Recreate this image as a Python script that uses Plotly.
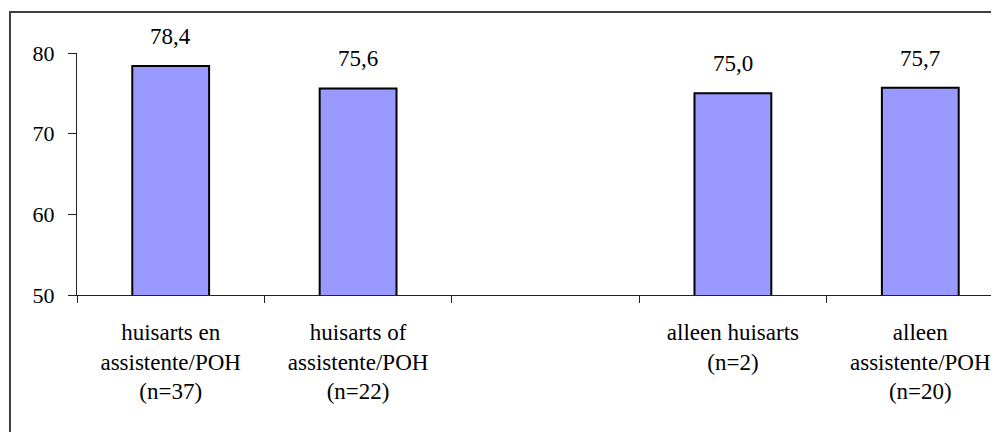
import plotly.graph_objects as go

categories = [
    "huisarts en<br>assistente/POH<br>(n=37)",
    "huisarts of<br>assistente/POH<br>(n=22)",
    " ",
    "alleen huisarts<br>(n=2)",
    "alleen<br>assistente/POH<br>(n=20)",
]
values = [78.4, 75.6, None, 75.0, 75.7]
value_labels = ["78,4", "75,6", "", "75,0", "75,7"]
y_ticks = [50, 60, 70, 80]

FONT = "Liberation Serif"

fig = go.Figure()
fig.add_trace(go.Bar(
    x=categories,
    y=values,
    width=0.41,
    marker=dict(color="#9999FF", line=dict(color="#000000", width=2)),
    hoverinfo="skip",
))

for c, v, t in zip(categories, values, value_labels):
    if v is None:
        continue
    fig.add_annotation(
        x=c, y=v, text=t, showarrow=False,
        xref="x", yref="y", yanchor="bottom", yshift=15,
        font=dict(family=FONT, size=23, color="#000000"),
    )

fig.add_shape(
    type="rect", xref="paper", yref="paper",
    x0=-0.0727, x1=1.05, y0=-0.7, y1=1.169,
    line=dict(color="#404040", width=2), fillcolor="rgba(0,0,0,0)",
    layer="below",
)

fig.update_layout(
    width=991, height=424,
    margin=dict(l=69, r=0, t=45, b=137),
    plot_bgcolor="white", paper_bgcolor="white",
    showlegend=False,
    font=dict(family=FONT, size=23, color="#000000"),
    xaxis=dict(
        type="category",
        categoryorder="array", categoryarray=categories,
        range=[-0.5, 4.42],
        tickson="boundaries",
        ticks="outside", ticklen=7, tickwidth=1, tickcolor="#222222",
        showline=True, linecolor="#222222", linewidth=1,
        showgrid=False, zeroline=False,
        tickfont=dict(family=FONT, size=23, color="#000000"),
        ticklabelstandoff=16,
    ),
    yaxis=dict(
        range=[50, 80],
        tickvals=y_ticks,
        ticks="outside", ticklen=8, tickwidth=1, tickcolor="#222222",
        showline=True, linecolor="#222222", linewidth=1,
        showgrid=False, zeroline=False,
        tickfont=dict(family=FONT, size=22, color="#000000"),
        ticklabelstandoff=9,
    ),
)

fig.write_html("out.html")
